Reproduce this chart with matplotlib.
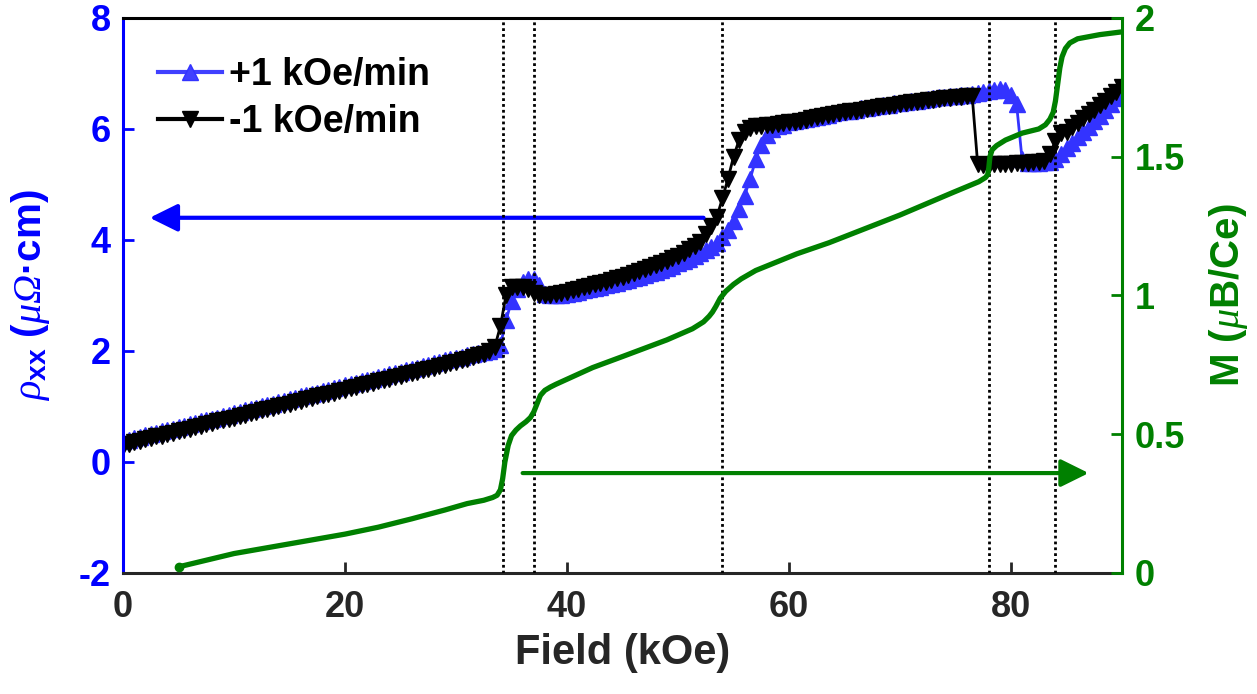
import numpy as np
import matplotlib
matplotlib.use('Agg')
import matplotlib.pyplot as plt

plt.rcParams['font.family'] = ['Liberation Sans', 'DejaVu Sans']
plt.rcParams['font.weight'] = 'bold'
plt.rcParams['axes.labelweight'] = 'bold'
plt.rcParams['axes.unicode_minus'] = False
plt.rcParams['mathtext.fontset'] = 'custom'
plt.rcParams['mathtext.rm'] = 'Liberation Serif:italic:normal'
plt.rcParams['mathtext.it'] = 'Liberation Serif:italic:normal'
plt.rcParams['mathtext.bf'] = 'Liberation Sans:bold'

# field sweep grid for the resistivity runs (kOe)
field = np.arange(0, 90.01, 0.5)

# rho_xx (uOhm cm), sweep up at +1 kOe/min
rho_up = [
    0.38, 0.40, 0.43, 0.45, 0.48, 0.50, 0.53, 0.55, 0.58, 0.60,
    0.63, 0.65, 0.68, 0.70, 0.73, 0.75, 0.78, 0.80, 0.83, 0.85,
    0.88, 0.90, 0.93, 0.95, 0.98, 1.00, 1.03, 1.05, 1.08, 1.10,
    1.13, 1.15, 1.18, 1.20, 1.23, 1.25, 1.28, 1.30, 1.33, 1.35,
    1.38, 1.40, 1.43, 1.45, 1.48, 1.50, 1.53, 1.55, 1.58, 1.60,
    1.63, 1.65, 1.68, 1.70, 1.73, 1.75, 1.78, 1.80, 1.83, 1.85,
    1.87, 1.89, 1.92, 1.94, 1.96, 1.98, 2.00, 2.03, 2.10, 2.55,
    2.90, 3.12, 3.25, 3.30, 3.30, 3.18, 3.03, 3.00, 3.00, 3.01,
    3.03, 3.05, 3.07, 3.09, 3.11, 3.14, 3.16, 3.18, 3.21, 3.23,
    3.26, 3.28, 3.31, 3.34, 3.37, 3.40, 3.43, 3.46, 3.50, 3.54,
    3.58, 3.62, 3.66, 3.71, 3.76, 3.82, 3.88, 3.95, 4.05, 4.18,
    4.35, 4.55, 4.80, 5.10, 5.45, 5.72, 5.90, 6.00, 6.05, 6.08,
    6.12, 6.14, 6.16, 6.18, 6.20, 6.22, 6.24, 6.26, 6.28, 6.30,
    6.32, 6.33, 6.35, 6.37, 6.38, 6.40, 6.41, 6.43, 6.44, 6.46,
    6.47, 6.49, 6.50, 6.51, 6.53, 6.54, 6.55, 6.57, 6.58, 6.59,
    6.60, 6.61, 6.62, 6.63, 6.65, 6.67, 6.69, 6.71, 6.72, 6.71,
    6.62, 6.45, 5.45, 5.38, 5.38, 5.39, 5.40, 5.41, 5.45, 5.55,
    5.65, 5.75, 5.85, 5.95, 6.04, 6.14, 6.24, 6.34, 6.45, 6.56,
    6.70,
]

# rho_xx (uOhm cm), sweep down at -1 kOe/min
rho_down = [
    0.28, 0.33, 0.36, 0.37, 0.41, 0.43, 0.46, 0.47, 0.51, 0.53,
    0.55, 0.58, 0.60, 0.63, 0.65, 0.68, 0.70, 0.73, 0.75, 0.78,
    0.80, 0.83, 0.85, 0.88, 0.90, 0.93, 0.95, 0.98, 1.00, 1.03,
    1.05, 1.08, 1.10, 1.13, 1.15, 1.18, 1.20, 1.23, 1.25, 1.28,
    1.30, 1.33, 1.35, 1.38, 1.40, 1.43, 1.45, 1.48, 1.50, 1.53,
    1.55, 1.58, 1.60, 1.63, 1.65, 1.68, 1.70, 1.73, 1.75, 1.78,
    1.80, 1.83, 1.86, 1.89, 1.92, 1.95, 2.00, 2.08, 2.45, 3.00,
    3.15, 3.16, 3.15, 3.12, 3.05, 3.00, 3.00, 3.01, 3.03, 3.05,
    3.07, 3.10, 3.12, 3.15, 3.17, 3.20, 3.22, 3.25, 3.28, 3.31,
    3.34, 3.37, 3.40, 3.44, 3.47, 3.51, 3.55, 3.59, 3.63, 3.67,
    3.72, 3.77, 3.83, 3.90, 3.97, 4.10, 4.25, 4.42, 4.75, 5.10,
    5.50, 5.80, 5.95, 6.02, 6.05, 6.06, 6.07, 6.08, 6.09, 6.10,
    6.12, 6.13, 6.15, 6.17, 6.19, 6.21, 6.23, 6.25, 6.27, 6.28,
    6.30, 6.32, 6.33, 6.35, 6.36, 6.38, 6.39, 6.41, 6.42, 6.44,
    6.45, 6.46, 6.48, 6.49, 6.50, 6.52, 6.53, 6.54, 6.55, 6.56,
    6.57, 6.58, 6.59, 6.60, 5.36, 5.35, 5.35, 5.36, 5.36, 5.37,
    5.37, 5.38, 5.38, 5.39, 5.40, 5.41, 5.42, 5.55, 5.78, 5.92,
    5.95, 6.03, 6.11, 6.19, 6.27, 6.35, 6.43, 6.51, 6.59, 6.67,
    6.75,
]

# magnetization M (muB/Ce)
m_field = [5, 10, 15, 20, 23, 26, 29, 31, 32.5, 33.3, 33.7, 34.0, 34.2,
           34.4, 34.7, 35.0, 35.4, 35.8, 36.3, 36.7, 37.0, 37.3, 37.6,
           38.0, 38.5, 39, 42.3, 45, 49, 51.3, 52.3, 52.8, 53.1, 53.4,
           53.8, 54.3, 55.0, 55.7, 57, 60.7, 63.6, 70, 74.7, 77.1, 77.7,
           77.9, 78.0, 78.1, 78.3, 78.7, 79.5, 81, 82.5, 83.1, 83.5, 83.8,
           84.0, 84.2, 84.4, 84.6, 84.9, 85.3, 86, 88, 90]
m_val = [0.022, 0.07, 0.105, 0.14, 0.165, 0.195, 0.227, 0.25, 0.262,
         0.272, 0.28, 0.30, 0.34, 0.40, 0.46, 0.495, 0.515, 0.53, 0.545,
         0.56, 0.58, 0.61, 0.64, 0.658, 0.67, 0.68, 0.74, 0.78, 0.84,
         0.88, 0.905, 0.925, 0.94, 0.96, 0.99, 1.015, 1.04, 1.06, 1.09,
         1.15, 1.19, 1.29, 1.37, 1.41, 1.425, 1.435, 1.46, 1.50, 1.525,
         1.54, 1.56, 1.585, 1.60, 1.615, 1.635, 1.66, 1.70, 1.76, 1.82,
         1.86, 1.89, 1.91, 1.925, 1.94, 1.95]

# transition fields marked by dotted lines
transitions = [34.2, 37.0, 54.0, 78.0, 84.0]

blue = '#0000FF'
green = '#008000'
gray = '#262626'

fig = plt.figure(figsize=(12.57, 6.94), dpi=100)
ax = fig.add_axes([0.0979, 0.1744, 0.7947, 0.7997])
ax2 = ax.twinx()

ax.plot(field, rho_up, color='#3333FF', lw=2, marker='^', ms=12,
        mec='#3333FF', label='+1 kOe/min')
ax.plot(field, rho_down, color='k', lw=2, marker='v', ms=12,
        mec='k', label='-1 kOe/min')

ax.annotate('', xy=(2.4, 4.4), xytext=(52.3, 4.4),
            arrowprops=dict(arrowstyle='-|>,head_length=0.85,head_width=0.42',
                            mutation_scale=20, lw=3, color=blue,
                            shrinkA=0, shrinkB=0))

for xv in transitions:
    ax2.axvline(xv, color='k', lw=2, ls=(0, (1, 1.1)))
ax2.plot(m_field, m_val, color=green, lw=3.8, marker='o', ms=6,
         markevery=[0], solid_capstyle='round', solid_joinstyle='round')
ax2.annotate('', xy=(87.0, 0.36), xytext=(36.0, 0.36),
             arrowprops=dict(arrowstyle='-|>,head_length=0.85,head_width=0.42',
                             mutation_scale=20, lw=3, color=green,
                             shrinkA=0, shrinkB=0))

ax.set_xlim(0, 90)
ax.set_ylim(-2, 8)
ax2.set_ylim(0, 2)
ax.set_xticks([0, 20, 40, 60, 80])
ax.set_yticks([-2, 0, 2, 4, 6, 8])
ax2.set_yticks([0, 0.5, 1, 1.5, 2])
ax2.set_yticklabels(['0', '0.5', '1', '1.5', '2'])

for sp in ['top', 'bottom', 'left']:
    ax2.spines[sp].set_visible(False)
ax.spines['right'].set_visible(False)
ax.spines['left'].set_color(blue)
ax.spines['top'].set_color('k')
ax.spines['bottom'].set_color(gray)
ax2.spines['right'].set_color(green)
for sp in ax.spines.values():
    sp.set_linewidth(2.2)
ax2.spines['right'].set_linewidth(2.2)

ax.tick_params(axis='x', direction='in', length=8, width=2, colors=gray,
               labelsize=26, pad=12, top=False)
ax.tick_params(axis='y', direction='in', length=8, width=2, colors=blue,
               labelsize=26, pad=9)
ax2.tick_params(axis='y', direction='in', length=8, width=2, colors=green,
                labelsize=26, pad=9)

ax.set_xlabel('Field (kOe)', fontsize=30, color=gray, fontweight='bold',
              labelpad=6)
ax.set_ylabel(r'$\rho_{\mathbf{xx}}$ ($\mu\Omega$·cm)', fontsize=29,
              color=blue, fontweight='bold')
ax.yaxis.set_label_coords(-0.071, 0.5)
ax2.set_ylabel(r'M ($\mu$B/Ce)', fontsize=29, color=green,
               fontweight='bold')
ax2.yaxis.set_label_coords(1.085, 0.5)

leg = ax.legend(loc='upper left', bbox_to_anchor=(0.035, 0.93),
                frameon=False, fontsize=27, handlelength=1.7,
                handletextpad=0.2, labelspacing=0.3, borderpad=0,
                borderaxespad=0, numpoints=1)
leg.get_lines()[0].set_color('#4040FF')
leg.get_lines()[0].set_linewidth(3)
leg.get_lines()[0].set_markersize(11)
leg.get_lines()[1].set_linewidth(3)
leg.get_lines()[1].set_markersize(11)

fig.savefig('out.png', dpi=100)
